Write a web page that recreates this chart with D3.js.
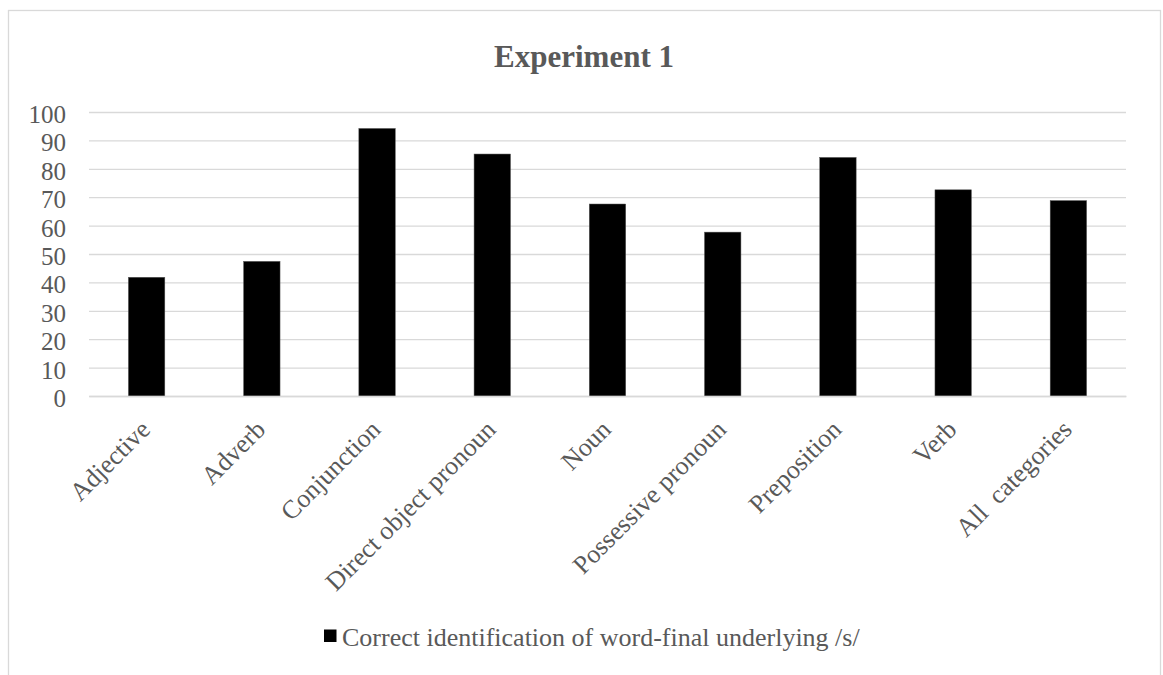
<!DOCTYPE html>
<html>
<head>
<meta charset="utf-8">
<script src="https://cdn.jsdelivr.net/npm/d3@7"></script>
<style>
  html, body { margin: 0; padding: 0; background: #fff; }
  svg { display: block; }
</style>
</head>
<body>
<svg id="chart" width="1163" height="675"></svg>
<script>
const categories = ["Adjective", "Adverb", "Conjunction", "Direct object pronoun", "Noun", "Possessive pronoun", "Preposition", "Verb", "All  categories"];
const values = [41.8, 47.4, 94.2, 85.2, 67.6, 57.7, 84.0, 72.6, 68.8];
const yTicks = [0, 10, 20, 30, 40, 50, 60, 70, 80, 90, 100];
const title = "Experiment 1";
const seriesName = "Correct identification of word-final underlying /s/";

const svg = d3.select("#chart");
const m = { left: 89, right: 1126, top: 112, bottom: 396 };
const serif = "'Liberation Serif', 'Times New Roman', serif";
const textCol = "#595959";

// outer border
svg.append("rect")
  .attr("x", 8.5).attr("y", 10.5)
  .attr("width", 1152).attr("height", 700)
  .attr("fill", "#fff").attr("stroke", "#d9d9d9").attr("stroke-width", 1.3);

const x = d3.scaleBand().domain(categories).range([m.left, m.right]).paddingInner(0.684).paddingOuter(0.342);
const y = d3.scaleLinear().domain([0, 100]).range([m.bottom, m.top]);

// gridlines + y tick labels
const yAxis = d3.axisLeft(y).tickValues(yTicks).tickSize(-(m.right - m.left)).tickPadding(23).tickFormat(d3.format("d"));
const gy = svg.append("g").attr("transform", `translate(${m.left},0)`).call(yAxis);
gy.select(".domain").remove();
gy.selectAll(".tick line").attr("stroke", "#d9d9d9").attr("stroke-width", 1.3);
gy.selectAll(".tick text")
  .attr("fill", textCol)
  .attr("font-family", serif)
  .attr("font-size", 25)
  .attr("dy", "0.42em");

// bars
svg.append("g").selectAll("rect").data(categories).join("rect")
  .attr("x", d => x(d))
  .attr("width", x.bandwidth())
  .attr("y", (d, i) => y(values[i]))
  .attr("height", (d, i) => y(0) - y(values[i]))
  .attr("fill", "#000")
  .attr("stroke", "#555").attr("stroke-width", 0.5);

// x axis labels
const xAxis = d3.axisBottom(x).tickSize(0).tickPadding(0);
const gx = svg.append("g").attr("transform", `translate(0,${m.bottom})`).call(xAxis);
gx.select(".domain").attr("stroke", "#d9d9d9").attr("stroke-width", 1.3);
gx.selectAll(".tick text")
  .attr("fill", textCol)
  .attr("font-family", serif)
  .attr("font-size", 26)
  .attr("xml:space", "preserve")
  .style("white-space", "pre")
  .attr("text-anchor", "end")
  .attr("dy", null)
  .attr("transform", "translate(5,35) rotate(-45)");

// title
svg.append("text")
  .attr("x", 584).attr("y", 67)
  .attr("text-anchor", "middle")
  .attr("font-family", serif).attr("font-weight", "bold")
  .attr("font-size", 31).attr("fill", textCol)
  .text(title);

// legend
const lg = svg.append("g");
lg.append("rect").attr("x", 324).attr("y", 629.5).attr("width", 12.5).attr("height", 12.5).attr("fill", "#000");
lg.append("text").attr("x", 342).attr("y", 646)
  .attr("font-family", serif).attr("font-size", 26).attr("fill", textCol)
  .text(seriesName);
</script>
</body>
</html>
